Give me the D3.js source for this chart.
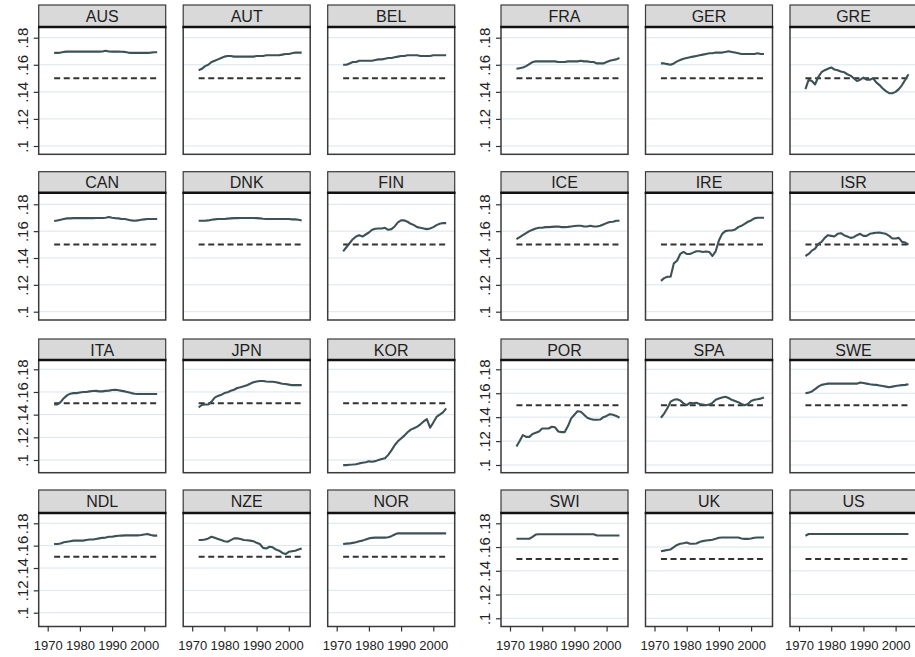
<!DOCTYPE html>
<html>
<head>
<meta charset="utf-8">
<script src="https://cdn.jsdelivr.net/npm/d3@7"></script>
<style>
  html, body { margin: 0; padding: 0; background: #fff; }
  svg { display: block; }
  text { font-family: "Liberation Sans", Arial, sans-serif; }
</style>
</head>
<body>
<svg id="chart" width="915" height="657"></svg>
<script>
// ---------------- DATA ----------------
const years = [1972,1973,1974,1975,1976,1977,1978,1979,1980,1981,1982,1983,1984,1985,1986,1987,1988,
               1989,1990,1991,1992,1993,1994,1995,1996,1997,1998,1999,2000,2001,2002,2003,2004];
const xTicks = [1970, 1980, 1990, 2000];
const yTicks = [0.10, 0.12, 0.14, 0.16, 0.18];
const yTickLabels = [".1", ".12", ".14", ".16", ".18"];
const benchmark = 0.15;

const leftPanels  = ["AUS","AUT","BEL","CAN","DNK","FIN","ITA","JPN","KOR","NDL","NZE","NOR"];
const rightPanels = ["FRA","GER","GRE","ICE","IRE","ISR","POR","SPA","SWE","SWI","UK","US"];

const AUS = [.1688,.1688,.169,.1695,.1697,.1697,.1697,.1697,.1697,.1697,.1697,.1697,.1697,.1697,.1697,.1698,.1703,
             .1698,.1697,.1697,.1697,.1696,.1695,.1690,.1688,.1688,.1688,.1688,.1688,.1688,.1690,.1693,.1693];
const AUT = [.156,.157,.159,.160,.162,.163,.164,.165,.166,.1665,.1665,.166,.166,.166,.166,.166,.166,
             .166,.1665,.1665,.1665,.167,.167,.167,.167,.167,.1675,.168,.168,.1685,.169,.169,.169];
const BEL = [.160,.160,.161,.162,.162,.163,.163,.163,.163,.163,.1635,.164,.164,.1645,.165,.165,.1655,
             .166,.1665,.1665,.167,.167,.167,.167,.1665,.1665,.1665,.1665,.167,.167,.167,.167,.167];
const CAN = [.1675,.168,.1685,.169,.1695,.1695,.1697,.1697,.1697,.1697,.1697,.1697,.1697,.1698,.1698,.1698,.170,
             .1705,.170,.1697,.1695,.169,.169,.1685,.168,.1678,.168,.1685,.1688,.169,.169,.169,.169];
const DNK = [.1678,.1678,.1678,.168,.1685,.1688,.169,.169,.169,.1693,.1695,.1697,.1697,.1698,.1698,.1698,.1698,
             .1698,.1697,.1695,.1692,.169,.169,.169,.169,.169,.169,.169,.169,.1688,.1688,.1685,.168];
const FIN = [.145,.148,.151,.154,.156,.157,.156,.1575,.159,.161,.1618,.162,.162,.1625,.161,.1615,.1635,
             .1665,.168,.168,.167,.1655,.1645,.163,.1625,.162,.1615,.162,.163,.1645,.1655,.166,.166];
const ITA = [.149,.149,.151,.1545,.157,.1585,.159,.159,.1595,.160,.160,.1605,.1608,.161,.1605,.1605,.161,
             .1612,.1618,.162,.1615,.161,.1605,.1598,.159,.1585,.1582,.1582,.1582,.1582,.1582,.1582,.1582];
const JPN = [.1465,.1485,.149,.149,.1515,.155,.1565,.1575,.159,.1598,.161,.162,.1635,.1642,.165,.166,.1673,
             .1685,.1693,.1697,.1697,.1692,.169,.169,.1685,.168,.1672,.167,.1665,.166,.166,.166,.166];
const KOR = [.0955,.0955,.0958,.096,.0963,.097,.0975,.098,.0988,.0985,.099,.100,.1008,.1015,.1045,.1085,.113,
             .1165,.119,.1215,.1245,.1268,.128,.1295,.1315,.134,.136,.1285,.133,.138,.140,.142,.1455];
const NDL = [.1615,.1615,.162,.163,.1635,.164,.1645,.1645,.1645,.1645,.165,.1655,.1655,.166,.1665,.167,.1672,
             .168,.168,.1685,.1688,.169,.1692,.1692,.1692,.1692,.1692,.1695,.170,.1705,.1695,.169,.169];
const NZE = [.165,.165,.1655,.1665,.168,.167,.166,.165,.164,.1635,.165,.1665,.1665,.166,.165,.1648,.1645,
             .164,.1625,.1615,.158,.1575,.159,.1585,.1565,.1555,.1535,.1525,.1545,.155,.1555,.1565,.1575];
const NOR = [.1615,.1618,.162,.1625,.163,.164,.1645,.1655,.1665,.167,.1672,.1672,.1672,.1672,.1675,.1685,.170,
             .171,.171,.171,.171,.171,.171,.171,.171,.171,.171,.171,.171,.171,.171,.171,.171];
const FRA = [.157,.1575,.158,.159,.1605,.162,.1625,.1625,.1625,.1625,.1625,.1625,.1625,.162,.162,.162,.1625,
             .1625,.1625,.1625,.163,.1625,.1625,.162,.162,.161,.161,.161,.162,.163,.1635,.164,.165];
const GER = [.161,.161,.1605,.160,.161,.1625,.1635,.1645,.165,.1655,.166,.1665,.167,.1675,.168,.1685,.1685,
             .169,.169,.169,.1695,.170,.1695,.169,.1685,.168,.168,.168,.168,.168,.1685,.168,.168];
const GRE = [.142,.149,.148,.1455,.151,.1545,.156,.157,.158,.1565,.156,.155,.1545,.153,.152,.150,.148,
             .149,.1505,.149,.149,.150,.147,.145,.1425,.1405,.139,.139,.140,.142,.145,.149,.153];
const ICE = [.154,.1555,.157,.1585,.160,.161,.162,.1625,.1625,.163,.163,.1632,.1634,.1634,.163,.163,.1632,
             .1635,.1638,.164,.164,.1635,.1635,.164,.1635,.1635,.164,.165,.166,.1668,.167,.1678,.1678];
const IRE = [.123,.125,.126,.126,.136,.138,.143,.1445,.143,.143,.144,.145,.145,.1445,.1448,.1445,.1415,
             .145,.153,.158,.160,.1605,.1605,.1612,.163,.164,.1655,.167,.168,.1695,.170,.170,.170];
const ISR = [.1415,.143,.1455,.147,.1505,.152,.155,.157,.1565,.156,.158,.1585,.157,.156,.155,.1555,.157,
             .158,.1565,.1565,.158,.1585,.1588,.159,.1585,.158,.1565,.1545,.1545,.155,.152,.1515,.150];
const POR = [.1155,.120,.125,.1235,.1235,.126,.127,.128,.1305,.1305,.1305,.132,.1315,.128,.1275,.1275,.1325,
             .139,.142,.145,.1445,.142,.1395,.1385,.1378,.1378,.138,.140,.141,.1425,.142,.141,.1395];
const SPA = [.1395,.143,.1475,.153,.1545,.155,.154,.1515,.150,.152,.1515,.152,.151,.1505,.150,.1505,.152,
             .1545,.1555,.1565,.157,.156,.1545,.1535,.1525,.151,.150,.151,.1535,.1545,.155,.1555,.1565];
const SWE = [.160,.1605,.1615,.1635,.1655,.167,.1675,.168,.168,.168,.168,.168,.168,.168,.168,.168,.168,
             .169,.1685,.168,.1675,.1672,.167,.1665,.166,.1655,.165,.1655,.166,.1665,.1668,.167,.1675];
const SWI = [.167,.167,.167,.167,.167,.1685,.1705,.1708,.1708,.1708,.1708,.1708,.1708,.1708,.1708,.1708,.1708,
             .1708,.1708,.1708,.1708,.1708,.1708,.1708,.1708,.1697,.1697,.1697,.1697,.1697,.1697,.1697,.1697];
const UK  = [.1565,.157,.1575,.158,.160,.1618,.1628,.1632,.1638,.1628,.1628,.163,.1642,.165,.1655,.1658,.1662,
             .167,.1678,.168,.168,.168,.168,.168,.168,.1672,.1669,.1669,.1672,.1678,.168,.168,.168];
const US  = [.1695,.171,.171,.171,.171,.171,.171,.171,.171,.171,.171,.171,.171,.171,.171,.171,.171,
             .171,.171,.171,.171,.171,.171,.171,.171,.171,.171,.171,.171,.171,.171,.171,.171];

const seriesByCountry = {AUS,AUT,BEL,CAN,DNK,FIN,ITA,JPN,KOR,NDL,NZE,NOR,
                         FRA,GER,GRE,ICE,IRE,ISR,POR,SPA,SWE,SWI,UK,US};

// ---------------- LAYOUT ----------------
// pixel rows of the .1 and .18 ticks per facet row
const groups = [
  { panels: leftPanels,  x0: 38.7,
    yPos: [[146,37.7],[311.7,204.3],[460,369.3],[612.7,523.3]] },
  { panels: rightPanels, x0: 501,
    yPos: [[146,37.7],[311.7,204.3],[465,369.3],[618.3,523.3]] }
];
const pitch = 144.5, panelW = 127;
const headerTop  = [5, 171.7, 339, 490];
const plotTop    = [27, 192.7, 360, 513];
const plotBottom = [154.3, 320, 472.7, 626.5];

const lineColor = "#3c5257";
const gridColor = "#d8e5ee";
const borderColor = "#3a3a3a";

const svg = d3.select("#chart");
svg.append("rect").attr("width", 915).attr("height", 657).attr("fill", "#fff");

groups.forEach(g => {
  g.panels.forEach((name, i) => {
    const row = Math.floor(i / 3), col = i % 3;
    const px = g.x0 + col * pitch;
    const x = d3.scaleLinear().domain([1970, 2000]).range([px + 9, px + 105.6]);
    const y = d3.scaleLinear().domain([0.10, 0.18]).range(g.yPos[row]);
    const top = plotTop[row], bot = plotBottom[row];
    const pg = svg.append("g");

    pg.append("rect").attr("x", px).attr("y", top).attr("width", panelW).attr("height", bot - top)
      .attr("fill", "#fff");

    pg.selectAll("line.grid").data(yTicks).join("line")
      .attr("x1", px).attr("x2", px + panelW)
      .attr("y1", d => y(d)).attr("y2", d => y(d))
      .attr("stroke", gridColor).attr("stroke-width", 1);

    pg.append("line")
      .attr("x1", x(years[0])).attr("x2", x(years[years.length - 1]))
      .attr("y1", y(benchmark)).attr("y2", y(benchmark))
      .attr("stroke", "#333").attr("stroke-width", 2).attr("stroke-dasharray", "6,3.6");

    const vals = seriesByCountry[name];
    pg.append("path")
      .datum(years.map((yr, k) => [yr, vals[k]]))
      .attr("fill", "none").attr("stroke", lineColor).attr("stroke-width", 2.1)
      .attr("stroke-linejoin", "round")
      .attr("d", d3.line().x(d => x(d[0])).y(d => y(d[1])));

    pg.append("rect").attr("x", px).attr("y", top).attr("width", panelW).attr("height", bot - top)
      .attr("fill", "none").attr("stroke", borderColor).attr("stroke-width", 1.5);

    pg.append("rect").attr("x", px).attr("y", headerTop[row]).attr("width", panelW)
      .attr("height", top - headerTop[row])
      .attr("fill", "#d9d9d9").attr("stroke", borderColor).attr("stroke-width", 1.2);
    pg.append("line").attr("x1", px - 0.7).attr("x2", px + panelW + 0.7)
      .attr("y1", top).attr("y2", top).attr("stroke", "#111").attr("stroke-width", 2.5);
    pg.append("text")
      .attr("x", px + panelW / 2).attr("y", headerTop[row] + 16.5)
      .attr("text-anchor", "middle").attr("font-size", 16).attr("fill", "#1e1e1e")
      .text(name);

    if (col === 0) {
      const ax = pg.append("g").attr("transform", `translate(${px},0)`)
        .call(d3.axisLeft(y).tickValues(yTicks).tickSize(5).tickPadding(6)
              .tickFormat((d, k) => yTickLabels[k]));
      ax.select(".domain").remove();
      ax.selectAll(".tick line").attr("stroke", "#333").attr("stroke-width", 1.2);
      ax.selectAll(".tick text")
        .attr("font-size", 15).attr("fill", "#222")
        .attr("transform", "rotate(-90)")
        .attr("x", 0).attr("y", -11).attr("dy", 0)
        .attr("text-anchor", "middle");
      ax.attr("font-family", null);
    }

    if (row === 3) {
      const ax = pg.append("g").attr("transform", `translate(0,${bot})`)
        .call(d3.axisBottom(x).tickValues(xTicks).tickSize(5).tickPadding(9)
              .tickFormat(d3.format("d")));
      ax.select(".domain").remove();
      ax.selectAll(".tick line").attr("stroke", "#333").attr("stroke-width", 1.2);
      ax.selectAll(".tick text").attr("font-size", 13).attr("fill", "#222");
      ax.attr("font-family", null);
    }
  });
});
</script>
</body>
</html>
